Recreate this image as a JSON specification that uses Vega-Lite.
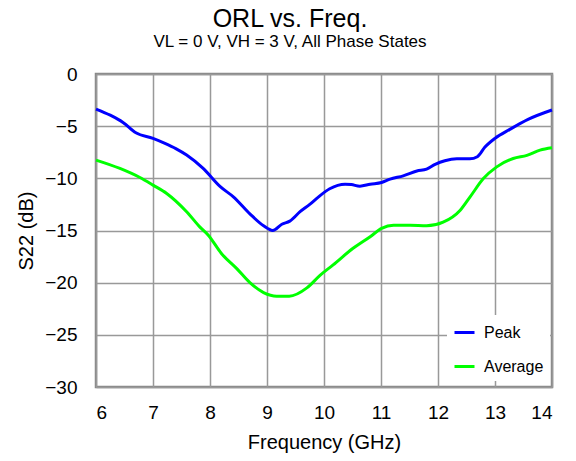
{
  "$schema": "https://vega.github.io/schema/vega-lite/v6.json",
  "width": 456,
  "height": 313,
  "autosize": "none",
  "padding": {"left": 96, "top": 74, "right": 24, "bottom": 74},
  "background": "white",
  "title": {
    "text": "ORL vs. Freq.",
    "subtitle": "VL = 0 V, VH = 3 V, All Phase States",
    "anchor": "middle",
    "dx": -34,
    "font": "Liberation Sans",
    "fontSize": 25,
    "fontWeight": "normal",
    "color": "black",
    "subtitleFont": "Liberation Sans",
    "subtitleFontSize": 17,
    "subtitleColor": "black",
    "subtitlePadding": 2,
    "offset": 15
  },
  "config": {
    "font": "Liberation Sans",
    "view": {"stroke": "#888888", "strokeWidth": 2.5},
    "axis": {
      "labelFont": "Liberation Sans",
      "labelFontSize": 19,
      "labelColor": "black",
      "titleFont": "Liberation Sans",
      "titleFontSize": 20,
      "titleFontWeight": "normal",
      "titleColor": "black",
      "gridColor": "#999999",
      "gridWidth": 1.5,
      "gridOpacity": 1,
      "ticks": false,
      "domain": false
    }
  },
  "data": {
    "values": [
      {"freq": 6.0, "s22": -3.36, "series": "Peak"},
      {"freq": 6.25, "s22": -3.95, "series": "Peak"},
      {"freq": 6.48, "s22": -4.67, "series": "Peak"},
      {"freq": 6.7, "s22": -5.63, "series": "Peak"},
      {"freq": 7.0, "s22": -6.17, "series": "Peak"},
      {"freq": 7.21, "s22": -6.65, "series": "Peak"},
      {"freq": 7.4, "s22": -7.15, "series": "Peak"},
      {"freq": 7.59, "s22": -7.77, "series": "Peak"},
      {"freq": 7.88, "s22": -9.05, "series": "Peak"},
      {"freq": 8.18, "s22": -10.8, "series": "Peak"},
      {"freq": 8.41, "s22": -11.77, "series": "Peak"},
      {"freq": 8.7, "s22": -13.4, "series": "Peak"},
      {"freq": 8.94, "s22": -14.55, "series": "Peak"},
      {"freq": 9.1, "s22": -15.0, "series": "Peak"},
      {"freq": 9.26, "s22": -14.4, "series": "Peak"},
      {"freq": 9.4, "s22": -14.1, "series": "Peak"},
      {"freq": 9.58, "s22": -13.2, "series": "Peak"},
      {"freq": 9.75, "s22": -12.5, "series": "Peak"},
      {"freq": 9.9, "s22": -11.8, "series": "Peak"},
      {"freq": 10.1, "s22": -11.0, "series": "Peak"},
      {"freq": 10.37, "s22": -10.56, "series": "Peak"},
      {"freq": 10.48, "s22": -10.6, "series": "Peak"},
      {"freq": 10.63, "s22": -10.75, "series": "Peak"},
      {"freq": 10.81, "s22": -10.56, "series": "Peak"},
      {"freq": 11.01, "s22": -10.4, "series": "Peak"},
      {"freq": 11.16, "s22": -10.08, "series": "Peak"},
      {"freq": 11.39, "s22": -9.76, "series": "Peak"},
      {"freq": 11.63, "s22": -9.3, "series": "Peak"},
      {"freq": 11.8, "s22": -9.12, "series": "Peak"},
      {"freq": 11.95, "s22": -8.67, "series": "Peak"},
      {"freq": 12.12, "s22": -8.32, "series": "Peak"},
      {"freq": 12.33, "s22": -8.13, "series": "Peak"},
      {"freq": 12.56, "s22": -8.13, "series": "Peak"},
      {"freq": 12.69, "s22": -7.93, "series": "Peak"},
      {"freq": 12.82, "s22": -7.03, "series": "Peak"},
      {"freq": 13.0, "s22": -6.17, "series": "Peak"},
      {"freq": 13.26, "s22": -5.31, "series": "Peak"},
      {"freq": 13.58, "s22": -4.35, "series": "Peak"},
      {"freq": 14.0, "s22": -3.45, "series": "Peak"},
      {"freq": 6.0, "s22": -8.25, "series": "Average"},
      {"freq": 6.42, "s22": -9.05, "series": "Average"},
      {"freq": 6.77, "s22": -9.92, "series": "Average"},
      {"freq": 7.0, "s22": -10.65, "series": "Average"},
      {"freq": 7.24, "s22": -11.45, "series": "Average"},
      {"freq": 7.59, "s22": -13.2, "series": "Average"},
      {"freq": 7.82, "s22": -14.65, "series": "Average"},
      {"freq": 7.97, "s22": -15.45, "series": "Average"},
      {"freq": 8.2, "s22": -17.2, "series": "Average"},
      {"freq": 8.47, "s22": -18.65, "series": "Average"},
      {"freq": 8.7, "s22": -20.0, "series": "Average"},
      {"freq": 8.94, "s22": -20.95, "series": "Average"},
      {"freq": 9.17, "s22": -21.3, "series": "Average"},
      {"freq": 9.39, "s22": -21.3, "series": "Average"},
      {"freq": 9.7, "s22": -20.5, "series": "Average"},
      {"freq": 9.93, "s22": -19.3, "series": "Average"},
      {"freq": 10.16, "s22": -18.3, "series": "Average"},
      {"freq": 10.51, "s22": -16.7, "series": "Average"},
      {"freq": 10.81, "s22": -15.6, "series": "Average"},
      {"freq": 11.01, "s22": -14.8, "series": "Average"},
      {"freq": 11.22, "s22": -14.5, "series": "Average"},
      {"freq": 11.51, "s22": -14.5, "series": "Average"},
      {"freq": 11.8, "s22": -14.55, "series": "Average"},
      {"freq": 12.09, "s22": -14.2, "series": "Average"},
      {"freq": 12.39, "s22": -13.05, "series": "Average"},
      {"freq": 12.56, "s22": -11.8, "series": "Average"},
      {"freq": 12.8, "s22": -10.0, "series": "Average"},
      {"freq": 13.03, "s22": -8.9, "series": "Average"},
      {"freq": 13.32, "s22": -8.1, "series": "Average"},
      {"freq": 13.56, "s22": -7.8, "series": "Average"},
      {"freq": 13.79, "s22": -7.3, "series": "Average"},
      {"freq": 14.0, "s22": -7.07, "series": "Average"}
    ]
  },
  "mark": {"type": "line", "strokeWidth": 3, "interpolate": "monotone"},
  "encoding": {
    "x": {
      "field": "freq",
      "type": "quantitative",
      "scale": {"domain": [6, 14], "nice": false},
      "axis": {"values": [6, 7, 8, 9, 10, 11, 12, 13, 14], "title": "Frequency (GHz)", "labelPadding": 16, "titlePadding": 10}
    },
    "y": {
      "field": "s22",
      "type": "quantitative",
      "scale": {"domain": [-30, 0], "nice": false},
      "axis": {"values": [-30, -25, -20, -15, -10, -5, 0], "title": "S22 (dB)", "labelPadding": 19, "titlePadding": 8}
    },
    "color": {
      "field": "series",
      "type": "nominal",
      "sort": ["Peak", "Average"],
      "scale": {"domain": ["Peak", "Average"], "range": ["#0000FF", "#00FF00"]},
      "legend": {
        "title": null,
        "orient": "none",
        "legendX": 351,
        "legendY": 241,
        "fillColor": "white",
        "padding": 6,
        "symbolType": "stroke",
        "symbolSize": 400,
        "symbolStrokeWidth": 3,
        "labelFont": "Liberation Sans",
        "labelFontSize": 16,
        "labelColor": "black",
        "rowPadding": 14,
        "labelOffset": 8
      }
    }
  }
}
